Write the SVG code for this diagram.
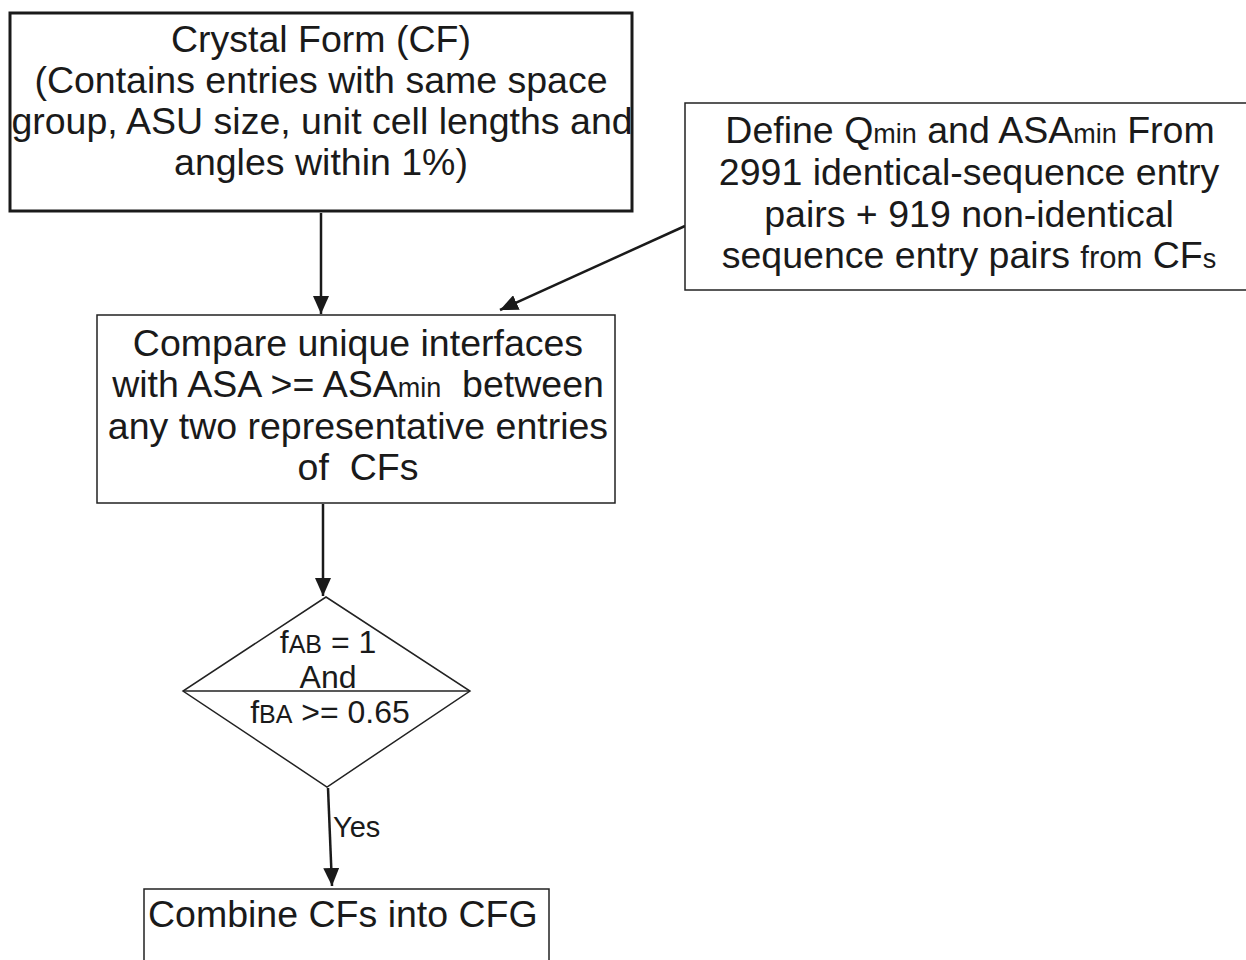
<svg xmlns="http://www.w3.org/2000/svg" width="1246" height="960" viewBox="0 0 1246 960">
<style>
text{font-family:"Liberation Sans",Arial,sans-serif;fill:#1a1a1a;white-space:pre;}
.t{font-size:37.5px;text-anchor:middle;}
.d{font-size:32px;text-anchor:middle;}
.s{font-size:27px;}
.ds{font-size:25px;}
.box{fill:#fff;stroke:#222;stroke-width:1.5;}
.line{stroke:#1a1a1a;stroke-width:2.5;fill:none;}
</style>
<defs>
<marker id="ahl" markerWidth="18" markerHeight="16" refX="18" refY="8" orient="auto" markerUnits="userSpaceOnUse">
<path d="M0,0 L18,8 L0,16 z" fill="#1a1a1a"/>
</marker>
</defs>
<rect width="1246" height="960" fill="#fff"/>
<g id="connectors">
<line class="line" x1="321" y1="213" x2="321" y2="314" marker-end="url(#ahl)"/>
<line class="line" x1="685" y1="226" x2="500" y2="310" marker-end="url(#ahl)"/>
<line class="line" x1="323" y1="504" x2="323" y2="596" marker-end="url(#ahl)"/>
<line class="line" x1="328" y1="788" x2="332" y2="886" marker-end="url(#ahl)"/>
<text x="333" y="837" style="font-size:29px">Yes</text>
</g>
<g id="crystal-form">
<rect x="10" y="13" width="622" height="198" fill="#fff" stroke="#1a1a1a" stroke-width="3"/>
<text class="t" x="321" y="52">Crystal Form (CF)</text>
<text class="t" x="321" y="93">(Contains entries with same space</text>
<text class="t" x="322" y="134">group, ASU size, unit cell lengths and</text>
<text class="t" x="321" y="175">angles within 1%)</text>
</g>
<g id="define">
<rect class="box" x="685" y="103" width="570" height="187"/>
<text class="t" x="970" y="143">Define Q<tspan class="s">min</tspan> and ASA<tspan class="s">min</tspan> From</text>
<text class="t" x="969" y="185">2991 identical-sequence entry</text>
<text class="t" x="969" y="227">pairs + 919 non-identical</text>
<text class="t" x="969" y="268">sequence entry pairs <tspan style="font-size:31px">from</tspan> CF<tspan class="s">s</tspan></text>
</g>
<g id="compare">
<rect class="box" x="97" y="315" width="518" height="188"/>
<text class="t" x="358" y="356">Compare unique interfaces</text>
<text class="t" x="358" y="397">with ASA &gt;= ASA<tspan class="s">min</tspan>  between</text>
<text class="t" x="358" y="439">any two representative entries</text>
<text class="t" x="358" y="480">of  CFs</text>
</g>
<g id="decision">
<polygon points="326,597 470,691 327,787 183,691" fill="#fff" stroke="#222" stroke-width="1.5"/>
<line x1="183" y1="691" x2="470" y2="691" stroke="#222" stroke-width="1.5"/>
<text class="d" x="328" y="653">f<tspan class="ds">AB</tspan> = 1</text>
<text class="d" x="328" y="688">And</text>
<text class="d" x="330" y="723">f<tspan class="ds">BA</tspan> &gt;= 0.65</text>
</g>
<g id="combine">
<rect class="box" x="144" y="889" width="405" height="90"/>
<text x="148" y="927" style="font-size:37.5px">Combine CFs into CFG</text>
</g>
</svg>
